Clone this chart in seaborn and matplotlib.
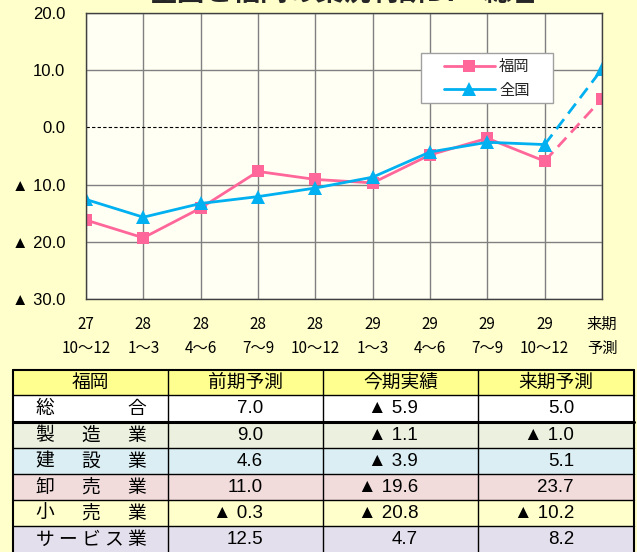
"""
全国と福岡の業況判断DIの推移 + 業種別の表
"""

import numpy as np
import pandas as pd
import matplotlib.pyplot as plt
import seaborn as sns
from matplotlib.patches import Rectangle

# 折れ線グラフのデータ
periods = ['27\n10～12', '28\n1～3', '28\n4～6', '28\n7～9', '28\n10～12',
           '29\n1～3', '29\n4～6', '29\n7～9', '29\n10～12', '来期\n予測']
fukuoka = [-16.2, -19.3, -14.1, -7.7, -9.1, -9.7, -4.8, -1.9, -5.9, 5.0]
zenkoku = [-12.6, -15.7, -13.3, -12.1, -10.6, -8.7, -4.3, -2.6, -3.0, 10.2]
yticks = [20, 10, 0, -10, -20, -30]

# 表のデータ
header = ['福岡', '前期予測', '今期実績', '来期予測']
gyoshu = ['総合', '製造業', '建設業', '卸売業', '小売業', 'サービス業']
zenki_yosoku = [7.0, 9.0, 4.6, 11.0, -0.3, 12.5]
konki_jisseki = [-5.9, -1.1, -3.9, -19.6, -20.8, 4.7]
raiki_yosoku = [5.0, -1.0, 5.1, 23.7, -10.2, 8.2]
row_colors = ['#FFFFFF', '#EBF1DE', '#DAEEF3', '#F2DCDB', '#FFFFCC', '#E4DFEC']

PINK = '#FF6699'
BLUE = '#00B0F0'
NUM_FONT = ['Liberation Sans', 'Noto Sans CJK JP', 'DejaVu Sans']
JP_FONT = ['Noto Sans CJK JP', 'DejaVu Sans']


def fmt(v):
    """負の値は ▲ 表記"""
    if v < 0:
        return f"▲ {abs(v):.1f}"
    return f"{v:.1f}"


sns.set_theme(style='white')
plt.rcParams['font.family'] = JP_FONT

W, H = 637, 552
fig = plt.figure(figsize=(W / 100, H / 100), dpi=100, facecolor='#FFFFCC')

# ---- グラフ ----
ax = fig.add_axes([86 / W, 1 - 299 / H, 516 / W, 286 / H])
ax.set_facecolor('#FFFFF4')

df = pd.DataFrame({'x': range(len(periods)), '福岡': fukuoka, '全国': zenkoku})
df = df.melt('x', var_name='地域', value_name='DI')
n = len(periods)
solid = df[df['x'] <= n - 2]
dashed = df[df['x'] >= n - 2]

palette = {'福岡': PINK, '全国': BLUE}
markers = {'福岡': 's', '全国': '^'}

sns.lineplot(data=dashed, x='x', y='DI', hue='地域', style='地域',
             hue_order=['福岡', '全国'], palette=palette, markers=markers,
             dashes={'福岡': (4.5, 2.5), '全国': (4.5, 2.5)},
             lw=2, markersize=9.5, markeredgewidth=0, legend=False, ax=ax)
sns.lineplot(data=solid, x='x', y='DI', hue='地域', style='地域',
             hue_order=['福岡', '全国'], palette=palette, markers=markers,
             dashes=False, lw=2, markersize=9.5, markeredgewidth=0, ax=ax)
# 三角は四角より少し大きく
for line in ax.get_lines():
    if line.get_marker() == '^':
        line.set_markersize(10.5)
    elif line.get_marker() == 's':
        line.set_markersize(8.6)

ax.set_xlim(0, n - 1)
ax.set_ylim(-30, 20)
ax.set_xticks(range(n))
ax.set_xticklabels(periods, linespacing=1.55, fontsize=11, color='black')
ax.set_yticks(yticks)
ax.set_yticklabels([fmt(v) for v in yticks], family=NUM_FONT, fontsize=12,
                   color='black')
ax.tick_params(axis='both', length=0)
ax.tick_params(axis='y', pad=15)
ax.tick_params(axis='x', pad=12)
ax.set_xlabel('')
ax.set_ylabel('')

ax.grid(True, color='#808080', lw=1)
for gl, t in zip(ax.get_ygridlines(), yticks):
    if t == 0:
        gl.set_visible(False)
ax.axhline(0, color='black', lw=0.8, ls=(0, (3, 2)), zorder=1.5)
for s in ax.spines.values():
    s.set_color('#404040')
    s.set_linewidth(1)

# 凡例
handles, labels = ax.get_legend_handles_labels()
keep = [(h, l) for h, l in zip(handles, labels) if l in ('福岡', '全国')]
ax.add_patch(Rectangle((0.649, 0.684), 0.256, 0.175, transform=ax.transAxes,
                       fc='white', ec='#A0A0A0', lw=1, zorder=4))
leg = ax.legend([k[0] for k in keep], [k[1] for k in keep], loc='center',
                bbox_to_anchor=(0.777, 0.7715), frameon=False, fontsize=11,
                handlelength=3.3, handletextpad=0.3, labelspacing=0.45,
                borderpad=0.2)
leg.set_zorder(5)

# タイトル（上端で切れている）
fig.text(344 / W, 1 - 1 / H, '全国と福岡の業況判断DI・総合', ha='center',
         va='baseline', fontsize=20, fontweight='bold')

# ---- 表 ----
tx = fig.add_axes([0, 0, 1, 1])
tx.set_xlim(0, W)
tx.set_ylim(H, 0)
tx.axis('off')
tx.patch.set_visible(False)

col_x = [13, 168, 323, 478, 634]
row_y = [370, 395, 422, 448, 474, 500, 526, 552]

colors = ['#FFFF8F'] + row_colors
for r in range(len(row_y) - 1):
    tx.add_patch(Rectangle((col_x[0], row_y[r]), col_x[-1] - col_x[0],
                           row_y[r + 1] - row_y[r], fc=colors[r], ec='none'))

for i, y in enumerate(row_y[:-1]):
    lw = 2.2 if y == 422 else (1.5 if i == 0 else 1.0)
    tx.plot([col_x[0], col_x[-1]], [y, y], color='black', lw=lw)
for i, x in enumerate(col_x):
    lw = 1.5 if i in (0, len(col_x) - 1) else 1.0
    tx.plot([x, x], [row_y[0], row_y[-1]], color='black', lw=lw)

# ヘッダー
for c, txt in enumerate(header):
    tx.text((col_x[c] + col_x[c + 1]) / 2, (row_y[0] + row_y[1]) / 2, txt,
            ha='center', va='center', fontsize=13.5, color='black')

# 業種名（均等割付）
for r, name in enumerate(gyoshu):
    yc = (row_y[r + 1] + row_y[r + 2]) / 2
    if len(name) == 2:
        pos = [45, 137]
    else:
        pos = np.linspace(45, 137, len(name))
    for ch, xc in zip(name, pos):
        tx.text(xc, yc, ch, ha='center', va='center', fontsize=13.5,
                color='black')

# 数値
for c, vals in enumerate([zenki_yosoku, konki_jisseki, raiki_yosoku]):
    xr = col_x[c + 2] - 60
    for r, v in enumerate(vals):
        yc = (row_y[r + 1] + row_y[r + 2]) / 2
        tx.text(xr, yc, fmt(v), ha='right', va='center', fontsize=13.5,
                family=NUM_FONT, color='black')

fig.savefig('out.png', dpi=100, facecolor=fig.get_facecolor())
plt.close(fig)
